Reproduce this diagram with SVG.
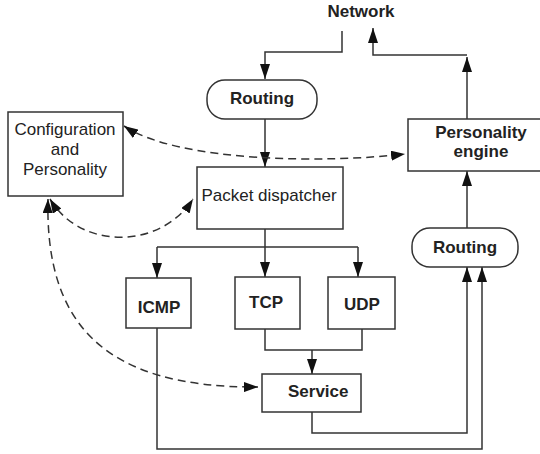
<svg xmlns="http://www.w3.org/2000/svg" width="540" height="454" viewBox="0 0 540 454">
<defs>
<marker id="ah" markerUnits="userSpaceOnUse" markerWidth="15" markerHeight="10" refX="15" refY="5" orient="auto-start-reverse">
<path d="M0,0 L15,5 L0,10 z" fill="#111"/>
</marker>
<marker id="dh" markerUnits="userSpaceOnUse" markerWidth="14" markerHeight="10" refX="14" refY="5" orient="auto-start-reverse">
<path d="M0,0 L14,5 L0,10 z" fill="#111"/>
</marker>
<style>
.box{fill:#fff;stroke:#333;stroke-width:1.5}
.ln{fill:none;stroke:#333;stroke-width:1.5}
.sa{marker-end:url(#ah)}
.dl{fill:none;stroke:#333;stroke-width:1.5;stroke-dasharray:8 5;marker-start:url(#dh);marker-end:url(#dh)}
.b{font-family:"Liberation Sans",Arial,sans-serif;font-size:17px;font-weight:bold;fill:#222}
.n{font-family:"Liberation Sans",Arial,sans-serif;font-size:17px;fill:#222}
</style>
</defs>
<g id="connectors">
<path class="ln sa" d="M342 31 V52 H265 V79"/>
<path class="ln sa" d="M265 119 V167"/>
<path class="ln sa" d="M467 119 V57"/>
<path class="ln sa" d="M467 55 H373 V28"/>
<path class="ln sa" d="M467 228 V171"/>
<path class="ln" d="M265 229 V247 M157 247 H358"/>
<path class="ln sa" d="M157 247 V278"/>
<path class="ln sa" d="M265 247 V277"/>
<path class="ln sa" d="M358 247 V277"/>
<path class="ln" d="M265 329 V350 H362 V329"/>
<path class="ln sa" d="M312 350 V374"/>
<path class="ln sa" d="M312 412 V433 H467 V267"/>
<path class="ln sa" d="M157 328 V449 H482 V267"/>
<path class="dl" d="M124 126 C180 163 330 163 405 154"/>
<path class="dl" d="M50 199 C80 250 160 250 193 199"/>
<path class="dl" d="M48 199 C45 320 100 388 258 387"/>
</g>
<g id="network"><text class="b" x="361" y="17" text-anchor="middle">Network</text></g>
<g id="routing-in"><rect class="box" x="207" y="80" width="110" height="39" rx="18"/><text class="b" x="262" y="104" text-anchor="middle">Routing</text></g>
<g id="config"><rect class="box" x="8" y="112" width="115" height="84"/>
<text class="n" x="65" y="135" text-anchor="middle">Configuration</text>
<text class="n" x="65" y="155" text-anchor="middle">and</text>
<text class="n" x="65" y="175" text-anchor="middle">Personality</text></g>
<g id="personality-engine"><rect class="box" x="408" y="119" width="140" height="52"/>
<text class="b" x="481" y="138" text-anchor="middle">Personality</text>
<text class="b" x="481" y="157" text-anchor="middle">engine</text></g>
<g id="packet-dispatcher"><rect class="box" x="197" y="167" width="146" height="62"/><text class="n" x="269" y="201" text-anchor="middle">Packet dispatcher</text></g>
<g id="routing-out"><rect class="box" x="412" y="228" width="106" height="39" rx="18"/><text class="b" x="465" y="253" text-anchor="middle">Routing</text></g>
<g id="icmp"><rect class="box" x="126" y="278" width="65" height="50"/><text class="b" x="159" y="313" text-anchor="middle">ICMP</text></g>
<g id="tcp"><rect class="box" x="235" y="277" width="65" height="52"/><text class="b" x="266" y="308" text-anchor="middle">TCP</text></g>
<g id="udp"><rect class="box" x="328" y="277" width="67" height="52"/><text class="b" x="362" y="310" text-anchor="middle">UDP</text></g>
<g id="service"><rect class="box" x="262" y="374" width="99" height="38"/><text class="b" x="288" y="397">Service</text></g>
</svg>
